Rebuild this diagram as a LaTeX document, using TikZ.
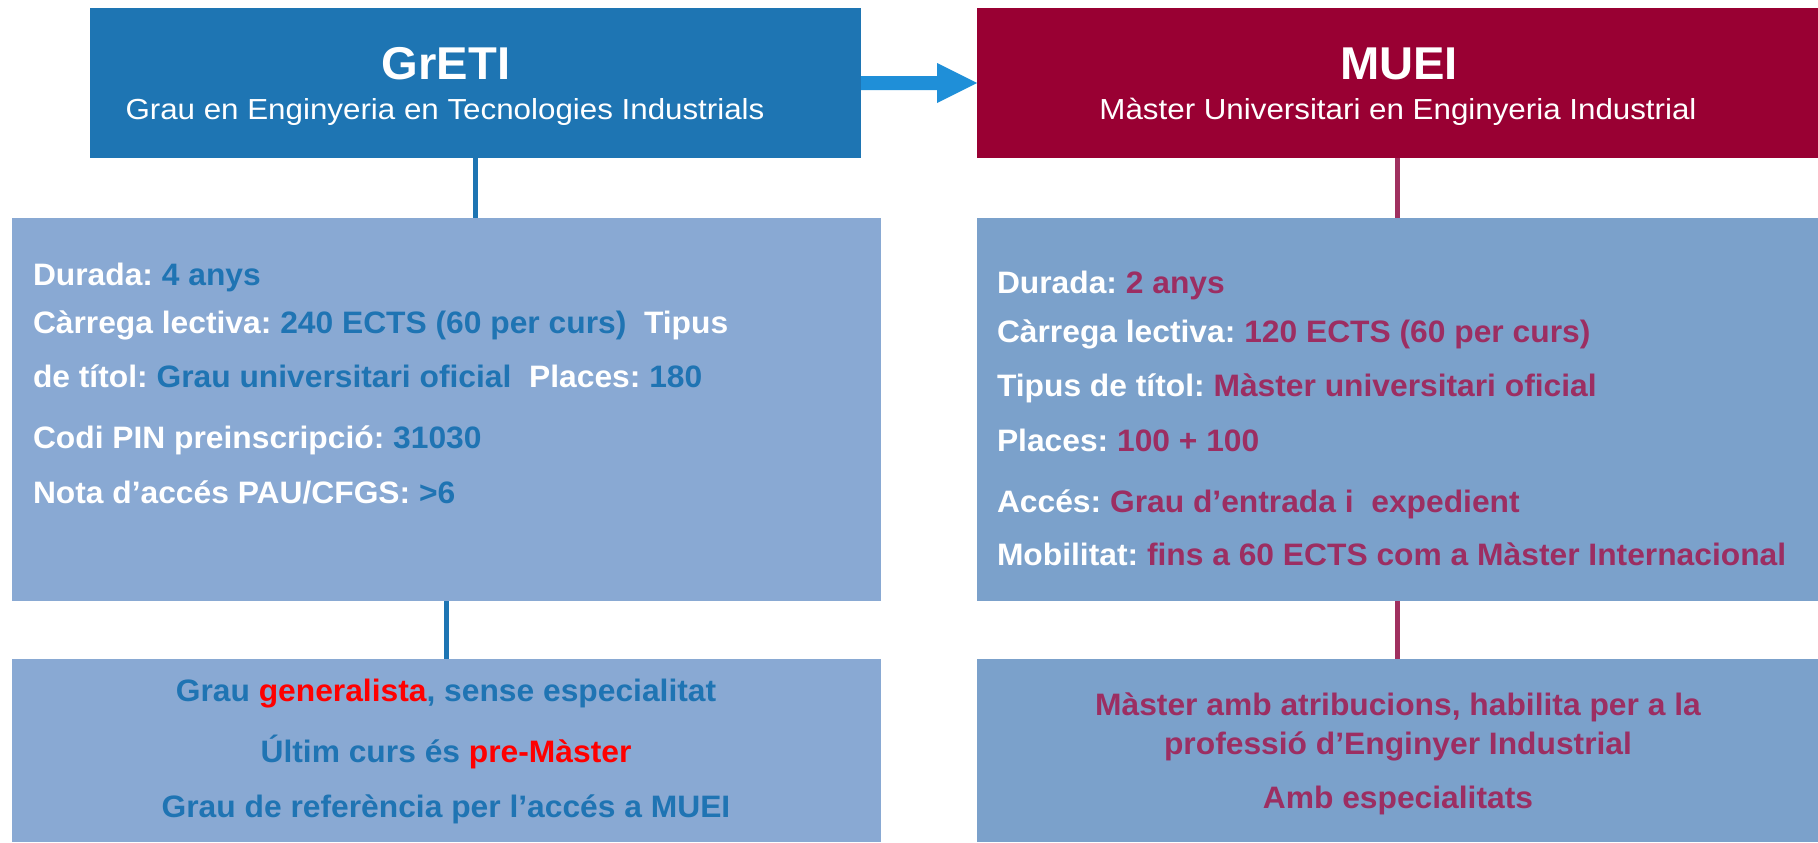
\documentclass[tikz,border=0pt]{standalone}
\usepackage{fontspec}
\setmainfont{Liberation Sans}[FakeStretch=1.025]
\newfontfamily\subfam{Liberation Sans}[FakeStretch=1.08]
\definecolor{topblue}{HTML}{1E75B3}
\definecolor{topred}{HTML}{990033}
\definecolor{boxL}{HTML}{89A9D3}
\definecolor{boxR}{HTML}{7BA1CB}
\definecolor{valblue}{HTML}{1F74B3}
\definecolor{valmag}{HTML}{9C2E62}
\definecolor{lineR}{HTML}{A0305F}
\definecolor{arrowc}{HTML}{1F8FD8}
\definecolor{hot}{HTML}{FF0000}
\frenchspacing
\begin{document}
\begin{tikzpicture}[x=0.5pt,y=-0.5pt,
  box/.style={draw=none, inner sep=0, outer sep=0, anchor=north west},
  body/.style={inner sep=0, outer sep=0, text=white, font=\bfseries\fontsize{15.5}{18}\selectfont},
  title/.style={inner sep=0, outer sep=0, anchor=base, text=white, font=\bfseries\fontsize{23}{26}\selectfont},
  subtitle/.style={inner sep=0, outer sep=0, anchor=base, text=white, font=\subfam\fontsize{14.5}{17}\selectfont},
  connL/.style={draw=topblue, line width=2.5pt},
  connR/.style={draw=lineR, line width=2.5pt}]
\useasboundingbox (0,0) rectangle (1818,842);
% boxes
\node[box, fill=topblue, minimum width=385.5pt, minimum height=75pt] (greti) at (90,8) {};
\node[box, fill=boxL, minimum width=434.5pt, minimum height=191.5pt] (infoL) at (12,218) {};
\node[box, fill=boxL, minimum width=434.5pt, minimum height=91.5pt] (notesL) at (12,659) {};
\node[box, fill=topred, minimum width=420.5pt, minimum height=75pt] (muei) at (977,8) {};
\node[box, fill=boxR, minimum width=420.5pt, minimum height=191.5pt] (infoR) at (977,218) {};
\node[box, fill=boxR, minimum width=420.5pt, minimum height=91.5pt] (notesR) at (977,659) {};
% connectors
\draw[connL] (greti.south) -- (greti.south |- infoL.north);
\draw[connL] (infoL.south) -- (notesL.north);
\draw[connR] (muei.south) -- (infoR.north);
\draw[connR] (infoR.south) -- (notesR.north);
% block arrow
\fill[arrowc] (greti.east) ++(0,-7) -- ++(76,0) -- ++(0,-13) -- (muei.west) -- ++(-40,20) -- ++(0,-13) -- ++(-76,0) -- cycle;
% titles
\node[title] (t1) at (446,79) {GrETI};
\node[subtitle] (s1) at (445,119.5) {Grau en Enginyeria en Tecnologies Industrials};
\node[title] (t2) at (1399,79) {MUEI};
\node[subtitle] (s2) at (1398,119.5) {Màster Universitari en Enginyeria Industrial};
% left info
\node[body, anchor=base west] (l1) at (33,285) {Durada: {\color{valblue}4 anys}};
\node[body, anchor=base west] (l2) at (33,333) {Càrrega lectiva: {\color{valblue}240 ECTS (60 per curs)}\ \ Tipus};
\node[body, anchor=base west] (l3) at (33,387) {de títol: {\color{valblue}Grau universitari oficial}\ \ Places: {\color{valblue}180}};
\node[body, anchor=base west] (l4) at (33,448) {Codi PIN preinscripció: {\color{valblue}31030}};
\node[body, anchor=base west] (l5) at (33,503) {Nota d’accés PAU/CFGS: {\color{valblue}>6}};
% right info
\node[body, anchor=base west] (r1) at (997,293) {Durada: {\color{valmag}2 anys}};
\node[body, anchor=base west] (r2) at (997,342) {Càrrega lectiva: {\color{valmag}120 ECTS (60 per curs)}};
\node[body, anchor=base west] (r3) at (997,396) {Tipus de títol: {\color{valmag}Màster universitari oficial}};
\node[body, anchor=base west] (r4) at (997,451) {Places: {\color{valmag}100 + 100}};
\node[body, anchor=base west] (r5) at (997,512) {Accés: {\color{valmag}Grau d’entrada i\ \ expedient}};
\node[body, anchor=base west] (r6) at (997,565) {Mobilitat: {\color{valmag}fins a 60 ECTS com a Màster Internacional}};
% notes
\node[body, anchor=base, text=valblue] (n1) at (446,701) {Grau {\color{hot}generalista}, sense especialitat};
\node[body, anchor=base, text=valblue] (n2) at (446,762) {Últim curs és {\color{hot}pre-Màster}};
\node[body, anchor=base, text=valblue] (n3) at (446,817) {Grau de referència per l’accés a MUEI};
\node[body, anchor=base, text=valmag] (m1) at (1398,715) {Màster amb atribucions, habilita per a la};
\node[body, anchor=base, text=valmag] (m2) at (1398,754) {professió d’Enginyer Industrial};
\node[body, anchor=base, text=valmag] (m3) at (1398,808) {Amb especialitats};
\end{tikzpicture}
\end{document}
